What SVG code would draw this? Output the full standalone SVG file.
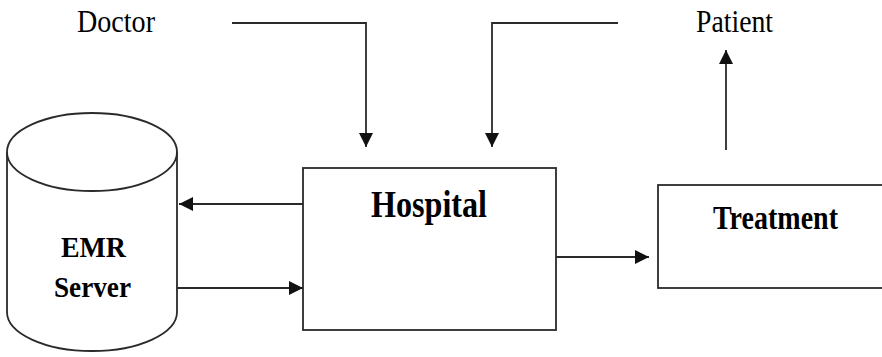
<svg xmlns="http://www.w3.org/2000/svg" width="882" height="357" viewBox="0 0 882 357">
<style>
.ln{fill:none;stroke:#2a2a2a;stroke-width:1.8}
.bx{fill:#fff;stroke:#2a2a2a;stroke-width:1.8}
.t{font-family:"Liberation Serif","Times New Roman",serif;fill:#000}
.b{font-weight:bold}
</style>
<defs>
<marker id="ah" markerUnits="userSpaceOnUse" markerWidth="16" markerHeight="16" viewBox="0 0 16 16" refX="15" refY="8" orient="auto">
<path d="M1,1 L15,8 L1,15 Z" fill="#111"/>
</marker>
</defs>
<rect width="882" height="357" fill="#fff"/>
<g id="doctor"><text class="t" x="77" y="32" font-size="32" textLength="78" lengthAdjust="spacingAndGlyphs">Doctor</text></g>
<g id="patient"><text class="t" x="696" y="32" font-size="32" textLength="77" lengthAdjust="spacingAndGlyphs">Patient</text></g>
<g id="emr-server">
<path class="bx" d="M7,152 L7,312 A85,39 0 0 0 177,312 L177,152"/>
<ellipse class="bx" cx="92" cy="152" rx="85" ry="39"/>
<text class="t b" x="61" y="257" font-size="30" textLength="65" lengthAdjust="spacingAndGlyphs">EMR</text>
<text class="t b" x="54" y="297" font-size="30" textLength="77" lengthAdjust="spacingAndGlyphs">Server</text>
</g>
<g id="hospital">
<rect class="bx" x="303" y="168" width="253" height="162"/>
<text class="t b" x="371" y="217" font-size="37" textLength="116" lengthAdjust="spacingAndGlyphs">Hospital</text>
</g>
<g id="treatment">
<rect class="bx" x="658" y="185" width="240" height="103"/>
<text class="t b" x="713" y="229" font-size="33" textLength="125" lengthAdjust="spacingAndGlyphs">Treatment</text>
</g>
<g id="connectors">
<path class="ln" d="M232,23 H366 V147" marker-end="url(#ah)"/>
<path class="ln" d="M618,23 H492 V147" marker-end="url(#ah)"/>
<path class="ln" d="M726,150 V50" marker-end="url(#ah)"/>
<path class="ln" d="M303,204 H179" marker-end="url(#ah)"/>
<path class="ln" d="M177,288 H303" marker-end="url(#ah)"/>
<path class="ln" d="M556,257 H649" marker-end="url(#ah)"/>
</g>
</svg>
